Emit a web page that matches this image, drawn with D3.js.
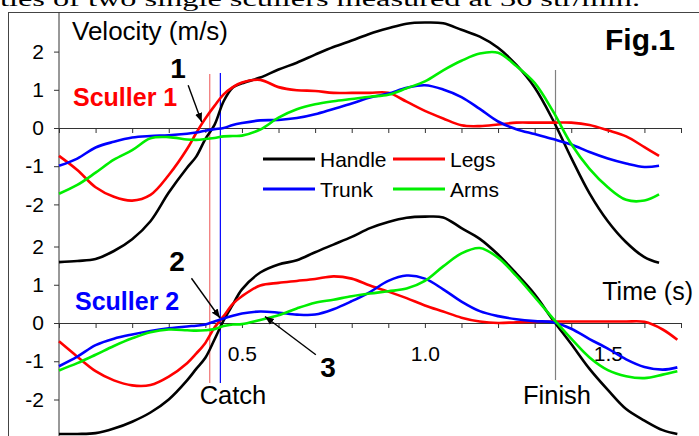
<!DOCTYPE html>
<html>
<head>
<meta charset="utf-8">
<script src="https://cdn.jsdelivr.net/npm/d3@7"></script>
<style>
  body { margin: 0; background: #fff; }
  svg text { font-family: Arial, "Liberation Sans", sans-serif; }
</style>
</head>
<body>
<script>
// ---- data ----
// time in seconds, velocity in m/s
let times1 = [0, 0.05, 0.1, 0.15, 0.2, 0.25, 0.3, 0.35, 0.375, 0.4, 0.425, 0.45, 0.475, 0.5,
    0.55, 0.6, 0.65, 0.7, 0.75, 0.8, 0.85, 0.9, 0.95, 1.0, 1.05, 1.1, 1.15, 1.2, 1.25, 1.3,
    1.35, 1.4, 1.45, 1.5, 1.55, 1.6, 1.64];
let handle1 = [-3.51, -3.48, -3.43, -3.22, -2.91, -2.44, -1.69, -1.04, -0.75, -0.29, 0.08, 0.7, 1.06, 1.17,
    1.32, 1.53, 1.71, 1.92, 2.12, 2.29, 2.47, 2.61, 2.73, 2.76, 2.74, 2.57, 2.39, 2.10, 1.65, 1.06,
    0.21, -0.78, -1.71, -2.44, -2.99, -3.38, -3.53];
let legs1 = [-0.73, -1.10, -1.55, -1.80, -1.90, -1.75, -1.23, -0.55, -0.13, 0.25, 0.58, 0.88, 1.07, 1.19,
    1.26, 1.07, 0.99, 0.97, 0.92, 0.92, 0.92, 0.92, 0.69, 0.45, 0.25, 0.07, 0.05, 0.09, 0.14, 0.14,
    0.14, 0.14, 0.08, -0.06, -0.22, -0.50, -0.73];
let trunk1 = [-0.99, -0.80, -0.51, -0.36, -0.25, -0.21, -0.19, -0.15, -0.12, -0.07, -0.03, 0.0, 0.08, 0.13,
    0.20, 0.21, 0.26, 0.36, 0.50, 0.64, 0.80, 0.90, 1.05, 1.12, 1.01, 0.81, 0.50, 0.17, -0.03, -0.16,
    -0.29, -0.43, -0.63, -0.80, -0.93, -1.02, -0.99];
let arms1 = [-1.72, -1.49, -1.17, -0.83, -0.58, -0.27, -0.24, -0.30, -0.31, -0.29, -0.26, -0.22, -0.21, -0.20,
    -0.04, 0.27, 0.49, 0.62, 0.70, 0.76, 0.82, 0.87, 1.04, 1.22, 1.51, 1.76, 1.95, 1.97, 1.62, 1.18,
    0.44, -0.42, -1.07, -1.55, -1.88, -1.90, -1.74];

let times2 = [0, 0.05, 0.1, 0.15, 0.2, 0.25, 0.3, 0.35, 0.375, 0.4, 0.425, 0.45, 0.475, 0.5,
    0.55, 0.6, 0.65, 0.7, 0.75, 0.8, 0.85, 0.9, 0.95, 1.0, 1.05, 1.1, 1.15, 1.2, 1.25, 1.3,
    1.35, 1.4, 1.45, 1.5, 1.55, 1.6, 1.65, 1.69];
let handle2 = [-2.90, -2.90, -2.88, -2.76, -2.58, -2.34, -2.00, -1.50, -1.20, -0.91, -0.43, 0.07, 0.48, 0.88,
    1.32, 1.53, 1.64, 1.85, 2.05, 2.25, 2.48, 2.64, 2.75, 2.78, 2.76, 2.48, 2.20, 1.79, 1.29, 0.75,
    0.08, -0.55, -1.20, -1.75, -2.25, -2.55, -2.80, -2.90];
let legs2 = [-0.48, -0.88, -1.26, -1.50, -1.63, -1.62, -1.40, -1.05, -0.80, -0.52, -0.12, 0.18, 0.50, 0.70,
    0.98, 1.05, 1.10, 1.15, 1.22, 1.16, 0.98, 0.82, 0.65, 0.46, 0.30, 0.14, 0.04, 0.0, 0.02, 0.03,
    0.04, 0.04, 0.04, 0.04, 0.04, 0.03, -0.17, -0.44];
let trunk2 = [-1.13, -0.88, -0.58, -0.41, -0.30, -0.21, -0.14, -0.09, -0.07, -0.04, 0.04, 0.12, 0.19, 0.25,
    0.30, 0.27, 0.22, 0.22, 0.36, 0.57, 0.81, 1.10, 1.24, 1.16, 0.88, 0.56, 0.31, 0.18, 0.10, 0.05,
    0.02, -0.15, -0.42, -0.67, -0.95, -1.15, -1.22, -1.16];
let arms2 = [-1.24, -1.05, -0.83, -0.60, -0.40, -0.24, -0.17, -0.19, -0.20, -0.19, -0.16, -0.08, -0.04, -0.03,
    0.08, 0.20, 0.38, 0.53, 0.61, 0.70, 0.77, 0.83, 0.90, 1.10, 1.48, 1.82, 1.96, 1.71, 1.23, 0.68,
    0.12, -0.41, -0.90, -1.23, -1.39, -1.44, -1.35, -1.26];

let seriesNames = ["Handle", "Legs", "Trunk", "Arms"];
let seriesColors = ["#000000", "#ff0000", "#0000ff", "#00ee00"];
let xTicks = [0, 0.1, 0.2, 0.3, 0.4, 0.5, 0.6, 0.7, 0.8, 0.9, 1.0, 1.1, 1.2, 1.3, 1.4, 1.5, 1.6, 1.7];
let xTickLabels = ["0.5", "1.0", "1.5"];
let yTicks = [-2, -1, 0, 1, 2];
let catchTimes = [0.412, 0.441];
let finishTime = 1.357;

// annotation arrows: [t0, v0, t1, v1] in the panel's units
let arrow1 = [0.353, 1.12, 0.39, 0.16];
let arrow2 = [0.362, 1.17, 0.44, 0.13];
let arrow3 = [0.702, -0.83, 0.563, 0.17];

// ---- layout ----
let svgWidth = 699,
    svgHeight = 436;

let svg = d3.select("body").append("svg")
    .attr("width", svgWidth)
    .attr("height", svgHeight);

let x = d3.scaleLinear().domain([0, 1.7]).range([59, 681]);
let yTop = d3.scaleLinear().domain([0, 1]).range([128, 89.8]);
let yBot = d3.scaleLinear().domain([0, 1]).range([323, 284.75]);

// caption line cut off at the top of the page (only its lower part shows)
svg.append("text")
    .attr("x", 0).attr("y", 6)
    .style("font-family", "'Liberation Serif', 'Times New Roman', serif")
    .style("font-size", "20px")
    .attr("textLength", 640)
    .attr("lengthAdjust", "spacingAndGlyphs")
    .text("ties of two single scullers measured at 36 str/min.");

// frame
svg.append("rect")
    .attr("x", 8.5).attr("y", 12.5)
    .attr("width", 700).attr("height", 500)
    .attr("fill", "none")
    .attr("stroke", "#444")
    .attr("stroke-width", 1);

// catch and finish markers
svg.append("line")
    .attr("x1", x(catchTimes[0])).attr("x2", x(catchTimes[0]))
    .attr("y1", 74).attr("y2", 383)
    .attr("stroke", "#f07070").attr("stroke-width", 1.2);
svg.append("line")
    .attr("x1", x(catchTimes[1])).attr("x2", x(catchTimes[1]))
    .attr("y1", 73).attr("y2", 383)
    .attr("stroke", "#0000ff").attr("stroke-width", 1.2);
svg.append("line")
    .attr("x1", x(finishTime)).attr("x2", x(finishTime))
    .attr("y1", 70).attr("y2", 380)
    .attr("stroke", "#808080").attr("stroke-width", 1.2);

// axes
function drawXAxis(yScale, withLabels) {
    let axis = d3.axisBottom(x)
        .tickValues(xTicks)
        .tickSize(5)
        .tickSizeOuter(0)
        .tickPadding(18)
        .tickFormat(d => {
            let s = d.toFixed(1);
            return withLabels && xTickLabels.includes(s) ? s : "";
        });
    let g = svg.append("g")
        .attr("transform", "translate(0," + yScale(0) + ")")
        .call(axis);
    g.selectAll("path, line").attr("stroke", "#333");
    g.selectAll("text").style("font-size", "21px").attr("fill", "#000");
}

function drawYAxis(yScale) {
    let axis = d3.axisLeft(yScale)
        .tickValues(yTicks)
        .tickSize(5)
        .tickPadding(10)
        .tickFormat(d => String(d));
    let g = svg.append("g")
        .attr("transform", "translate(" + x(0) + ",0)")
        .call(axis);
    g.select(".domain").remove();
    g.selectAll("line").attr("stroke", "#333");
    g.selectAll("text").style("font-size", "21px").attr("fill", "#000");
}

drawXAxis(yTop, false);
drawXAxis(yBot, true);
drawYAxis(yTop);
drawYAxis(yBot);

svg.append("line")
    .attr("x1", x(0)).attr("x2", x(0))
    .attr("y1", 12).attr("y2", svgHeight)
    .attr("stroke", "#333");

// curves
function drawCurves(times, seriesList, yScale) {
    seriesList.forEach((values, i) => {
        let points = times.map((t, k) => ({ t: t, v: values[k] }));
        let line = d3.line()
            .x(d => x(d.t))
            .y(d => yScale(d.v))
            .curve(d3.curveCatmullRom.alpha(0.5));
        svg.append("path")
            .datum(points)
            .attr("d", line)
            .attr("fill", "none")
            .attr("stroke", seriesColors[i])
            .attr("stroke-width", 2.6)
            .attr("stroke-linejoin", "round");
    });
}

drawCurves(times1, [handle1, legs1, trunk1, arms1], yTop);
drawCurves(times2, [handle2, legs2, trunk2, arms2], yBot);

// legend, 2 x 2
let legendPos = [[263, 159], [393, 159], [263, 189], [393, 189]];
seriesNames.forEach((name, i) => {
    let p = legendPos[i];
    svg.append("line")
        .attr("x1", p[0]).attr("x2", p[0] + 52)
        .attr("y1", p[1]).attr("y2", p[1])
        .attr("stroke", seriesColors[i])
        .attr("stroke-width", 3);
    svg.append("text")
        .attr("x", p[0] + 57).attr("y", p[1] + 7.5)
        .style("font-size", "21px")
        .text(name);
});

// texts
function label(txt, px, py, size, opts) {
    opts = opts || {};
    return svg.append("text")
        .attr("x", px).attr("y", py)
        .attr("text-anchor", opts.anchor || "start")
        .attr("fill", opts.color || "#000")
        .style("font-size", size + "px")
        .style("font-weight", opts.bold ? "bold" : "normal")
        .text(txt);
}

label("Velocity (m/s)", 72, 40, 26);
label("Fig.1", 605, 50, 30, { bold: true });
label("Sculler 1", 73, 106, 25, { bold: true, color: "#ff0000" });
label("Sculler 2", 75, 310, 25, { bold: true, color: "#0000ff" });
label("Time (s)", 693, 300, 25, { anchor: "end" });
label("Catch", 233, 404, 25.5, { anchor: "middle" });
label("Finish", 557, 404, 25.5, { anchor: "middle" });
label("1", 178, 78, 28, { bold: true, anchor: "middle" });
label("2", 177, 271, 28, { bold: true, anchor: "middle" });
label("3", 328, 377, 28, { bold: true, anchor: "middle" });

// arrows
svg.append("defs").append("marker")
    .attr("id", "head")
    .attr("viewBox", "0 0 10 10")
    .attr("refX", 10).attr("refY", 5)
    .attr("markerWidth", 9).attr("markerHeight", 9)
    .attr("markerUnits", "userSpaceOnUse")
    .attr("orient", "auto")
    .append("path")
    .attr("d", "M0,1 L10,5 L0,9 Z")
    .attr("fill", "#000");

function drawArrow(a, yScale) {
    svg.append("line")
        .attr("x1", x(a[0])).attr("y1", yScale(a[1]))
        .attr("x2", x(a[2])).attr("y2", yScale(a[3]))
        .attr("stroke", "#000")
        .attr("stroke-width", 1.4)
        .attr("marker-end", "url(#head)");
}

drawArrow(arrow1, yTop);
drawArrow(arrow2, yBot);
drawArrow(arrow3, yBot);
</script>
</body>
</html>
